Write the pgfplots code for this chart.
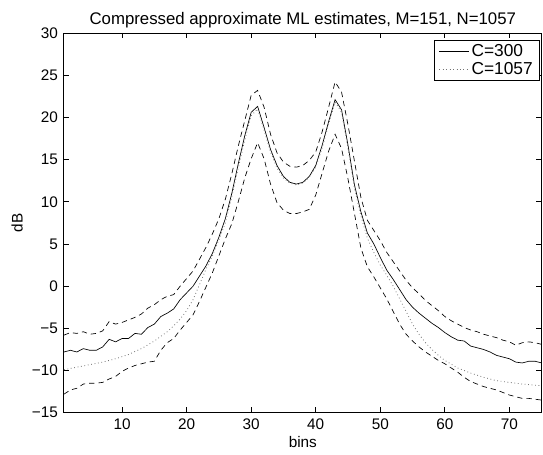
\documentclass[border=0pt]{standalone}
\usepackage{fontspec}
\setmainfont{Liberation Sans}
\usepackage{pgfplots}
\pgfplotsset{compat=1.18}

\begin{document}
\begin{tikzpicture}
\begin{axis}[
    name=ax,
    scale only axis,
    width=358.5pt,
    height=285pt,
    xmin=1, xmax=75,
    ymin=-15, ymax=30,
    xtick={10,20,...,70},
    ytick={-15,-10,...,30},
    yticklabels={−15,−10,−5,0,5,10,15,20,25,30},
    tick align=inside,
    major tick length=4pt,
    axis line style={line width=0.7pt},
    every tick/.style={line width=0.6pt, black},
    font=\fontsize{11.5}{13}\selectfont,
    /pgf/number format/assume math mode=true,
    xlabel={bins},
    ylabel={dB},
    xlabel style={yshift=2pt},
    ylabel style={yshift=0pt},
    xticklabel style={yshift=-1pt},
    yticklabel style={xshift=-1pt},
    title={Compressed approximate ML estimates, M=151, N=1057},
    title style={yshift=-6pt, font=\fontsize{12.6}{14}\selectfont},
    legend style={at={(0.996,0.982)}, anchor=north east, draw=black,
        line width=0.6pt, font=\fontsize{13}{15}\selectfont,
        inner xsep=3pt, inner ysep=1pt, row sep=-1pt},
    legend cell align=left,
    legend image code/.code={\draw[#1, line width=0.5pt] (0pt,0pt) -- (22pt,0pt);},
]
% C=300
\addplot[black, line width=0.5pt] coordinates {
(1,-7.8) (2,-7.6) (3,-7.8) (4,-7.4) (5,-7.6) (6,-7.6) (7,-7.2) (8,-6.3) (9,-6.6) (10,-6.2)
(11,-6.2) (12,-5.6) (13,-5.7) (14,-4.9) (15,-4.5) (16,-3.6) (17,-3.2) (18,-2.7) (19,-1.6) (20,-0.8)
(21,0.0) (22,1.2) (23,2.4) (24,3.9) (25,5.8) (26,8.0) (27,11.0) (28,14.5) (29,17.8) (30,20.6)
(31,21.3) (32,18.8) (33,16.2) (34,14.3) (35,13.0) (36,12.3) (37,12.1) (38,12.3) (39,13.0) (40,14.3)
(41,16.7) (42,19.5) (43,22.1) (44,20.9) (45,16.7) (46,12.0) (47,8.8) (48,6.3) (49,5.0) (50,3.4)
(51,1.9) (52,0.8) (53,-0.4) (54,-1.6) (55,-2.5) (56,-3.2) (57,-3.8) (58,-4.4) (59,-4.9) (60,-5.5)
(61,-6.0) (62,-6.4) (63,-6.5) (64,-7.1) (65,-7.3) (66,-7.5) (67,-7.8) (68,-8.2) (69,-8.4) (70,-8.6)
(71,-9.0) (72,-9.1) (73,-8.9) (74,-8.9) (75,-9.1)
};
\addlegendentry{C=300}
% C=1057
\addplot[black!55, dotted, line width=0.6pt] coordinates {
(1,-9.9) (3,-9.6) (5,-9.3) (7,-9.0) (9,-8.6) (11,-8.1) (13,-7.4) (15,-6.5) (17,-5.4) (18,-4.7)
(19,-3.9) (20,-2.9) (21,-1.6) (22,0.2) (23,2.0) (24,3.6) (25,5.5) (26,7.5) (27,10.6) (28,14.0)
(29,17.3) (30,20.2) (31,21.0) (32,18.5) (33,15.9) (34,14.0) (35,12.8) (36,12.2) (37,12.0) (38,12.2)
(39,12.9) (40,14.1) (41,16.4) (42,19.2) (43,21.8) (44,20.6) (45,16.3) (46,11.6) (47,8.3) (48,5.7)
(49,4.0) (50,2.5) (51,1.3) (52,0.0) (53,-1.5) (54,-3.0) (55,-4.5) (56,-5.7) (57,-6.7) (58,-7.5)
(59,-8.2) (60,-8.8) (62,-9.7) (64,-10.3) (66,-10.8) (68,-11.2) (70,-11.4) (72,-11.6) (75,-11.8)
};
\addlegendentry{C=1057}
% upper bound
\addplot[black, dash pattern=on 4pt off 3pt, line width=0.5pt, forget plot] coordinates {
(1,-5.8) (2,-5.5) (3,-5.6) (4,-5.4) (5,-5.7) (6,-5.6) (7,-5.3) (8,-4.2) (9,-4.5) (10,-4.3)
(11,-4.0) (12,-3.7) (13,-3.3) (14,-2.6) (15,-2.2) (16,-1.6) (17,-1.2) (18,-1.0) (19,0.0) (20,0.9)
(21,1.8) (22,3.2) (23,4.6) (24,6.2) (25,8.0) (26,10.3) (27,13.3) (28,16.6) (29,19.6) (30,22.6)
(31,23.2) (32,21.2) (33,18.0) (34,15.8) (35,14.7) (36,14.2) (37,14.1) (38,14.3) (39,14.9) (40,15.9)
(41,18.3) (42,21.2) (43,24.2) (44,23.0) (45,19.1) (46,14.8) (47,10.5) (48,7.8) (49,6.6) (50,5.4)
(51,4.0) (52,2.9) (53,1.8) (54,0.7) (55,-0.2) (56,-0.9) (57,-1.7) (58,-2.3) (59,-2.9) (60,-3.6)
(61,-4.1) (62,-4.5) (63,-4.9) (64,-5.2) (65,-5.4) (66,-5.7) (67,-5.9) (68,-6.1) (69,-6.4) (70,-6.6)
(71,-7.0) (72,-6.7) (73,-6.6) (74,-6.7) (75,-6.9)
};
% lower bound
\addplot[black, dash pattern=on 4pt off 3pt, line width=0.5pt, forget plot] coordinates {
(1,-12.8) (2,-12.3) (3,-12.1) (4,-11.6) (5,-11.5) (6,-11.5) (7,-11.4) (8,-11.0) (9,-10.7) (10,-10.1)
(11,-9.7) (12,-9.4) (13,-9.2) (14,-9.0) (15,-8.9) (16,-7.6) (17,-6.7) (18,-6.2) (19,-5.2) (20,-4.3)
(21,-3.4) (22,-1.8) (23,-0.1) (24,1.6) (25,3.6) (26,5.6) (27,7.4) (28,10.0) (29,12.8) (30,15.1)
(31,17.0) (32,15.1) (33,12.1) (34,9.9) (35,9.0) (36,8.6) (37,8.6) (38,8.8) (39,9.1) (40,10.8)
(41,13.4) (42,16.0) (43,18.0) (44,16.3) (45,12.7) (46,8.6) (47,4.5) (48,2.3) (49,1.1) (50,-0.2)
(51,-1.5) (52,-3.0) (53,-4.5) (54,-5.7) (55,-6.5) (56,-7.2) (57,-7.8) (58,-8.3) (59,-8.8) (60,-9.2)
(61,-9.7) (62,-10.2) (63,-10.8) (64,-11.3) (65,-11.6) (66,-11.9) (67,-12.1) (68,-12.3) (69,-12.6) (70,-12.9)
(71,-13.1) (72,-13.3) (73,-13.3) (74,-13.4) (75,-13.5)
};
\end{axis}
\pgfresetboundingbox
\path ([shift={(-48pt,-31.5pt)}]ax.south west) rectangle ([shift={(1pt,24.75pt)}]ax.north east);
\end{tikzpicture}
\end{document}
